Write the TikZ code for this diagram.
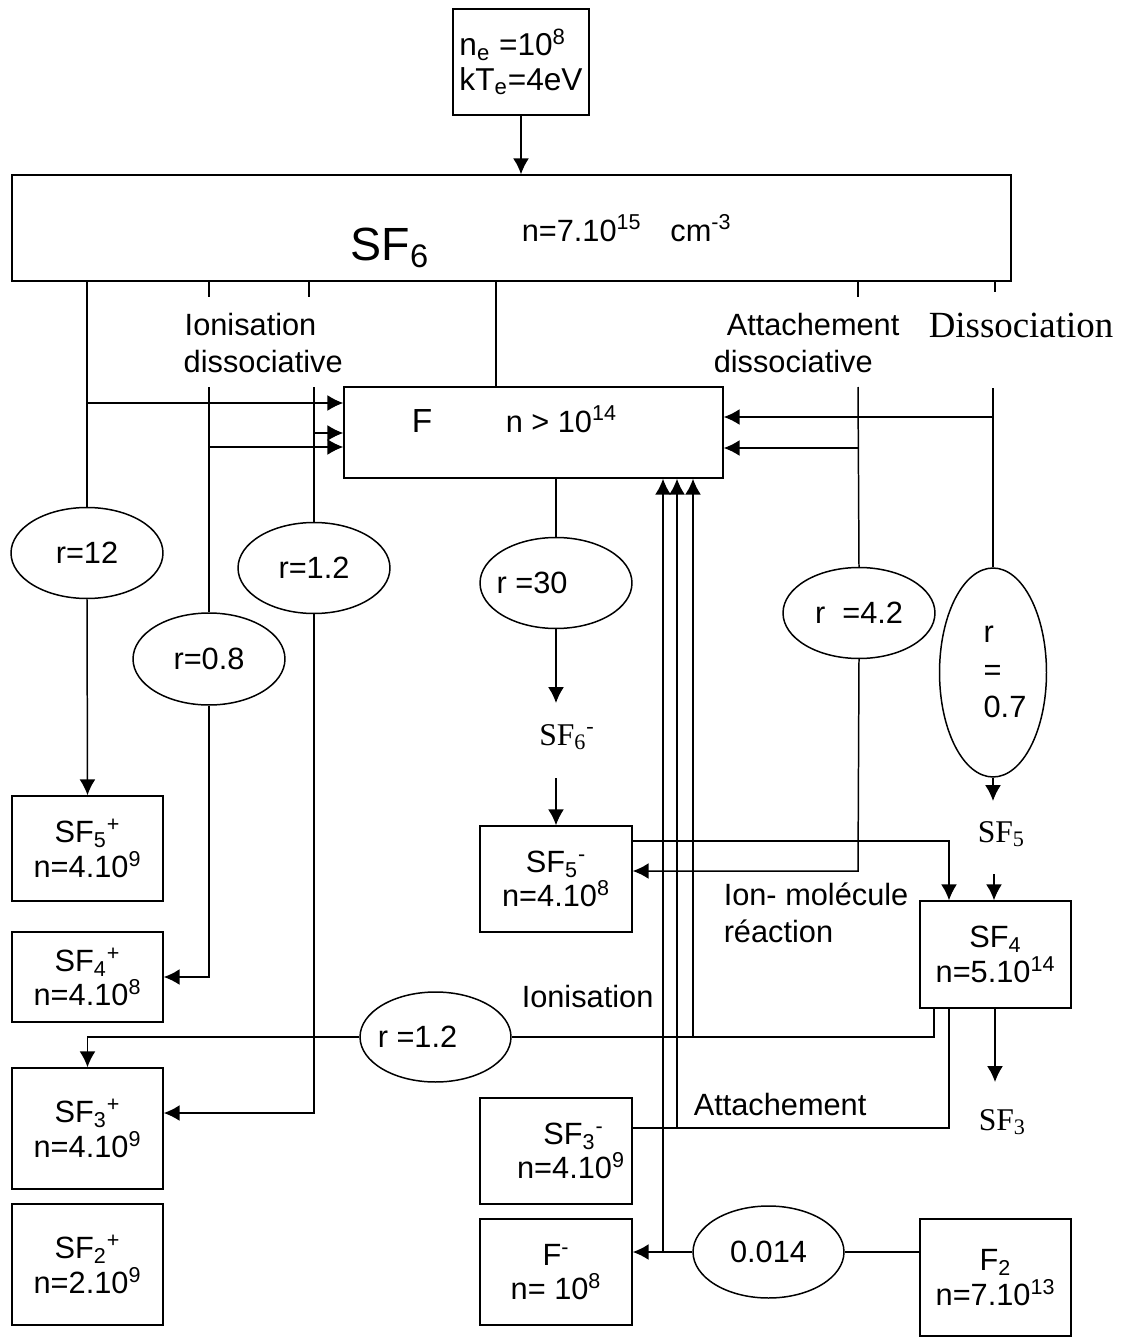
\documentclass[tikz,border=0pt]{standalone}
\usepackage{fontspec}
\setmainfont{Liberation Sans}
\newfontfamily\timesfont{Liberation Serif}
\usetikzlibrary{arrows.meta,shapes.geometric}

\begin{document}
\begin{tikzpicture}[
x=0.02cm, y=-0.02cm,
line width=0.85pt,
every node/.style={font=\fontsize{17.5}{19.5}\selectfont},
species/.style={draw, align=center, inner sep=0pt, minimum width=3.02cm},
rate/.style={draw, ellipse, inner sep=0pt, minimum width=3.04cm, minimum height=1.82cm},
lbl/.style={inner sep=0pt, anchor=base west},
roman/.style={font=\timesfont\fontsize{18}{21}\selectfont},
flow/.style={-{Latex[length=9pt,width=9pt]}}
]
\useasboundingbox (0,0) rectangle (1120,1338);

% electrons and gas
\node[species, align=left, minimum width=2.72cm, minimum height=2.12cm,
font=\fontsize{18}{19.8}\selectfont] (ne) at (521,62)
{n\textsubscript{e} =10\textsuperscript{8}\\kT\textsubscript{e}=4eV};

\node[species, minimum width=19.98cm, minimum height=2.12cm] (sf6) at (511.5,228) {};
\node[lbl, font=\fontsize{26.5}{30}\selectfont] (sf6name) at (350,260) {SF\textsubscript{6}};
\node[lbl] (sf6n) at (521,241) {n=7.10\textsuperscript{15}\hspace{0.58cm}cm\textsuperscript{-3}};

\node[species, minimum width=7.58cm, minimum height=1.82cm] (fbox) at (533.5,432.5) {};
\node[lbl, font=\fontsize{19}{21}\selectfont] (fname) at (411,432) {F};
\node[lbl] (fn) at (505,432) {n > 10\textsuperscript{14}};

% rates
\node[rate] (r12) at (87,553) {r=12};
\node[rate, minimum height=1.84cm] (r08) at (209,659) {r=0.8};
\node[rate] (r12b) at (314,568) {r=1.2};
\node[rate] (r30) at (556,583) {\hspace*{-0.96cm}r =30};
\node[rate] (r42) at (859,613) {r~ =4.2};
\node[rate, minimum width=2.14cm, minimum height=4.18cm] (r07) at (993,672.5)
{\hspace*{0.48cm}{\def\arraystretch{1.1}\begin{tabular}{@{}l@{}}r\\=\\0.7\end{tabular}}};
\node[rate, minimum width=3.02cm, minimum height=1.8cm] (r12c) at (435.5,1037) {\hspace*{-0.72cm}r =1.2};
\node[rate, minimum width=3.02cm, minimum height=1.84cm] (c014) at (768.5,1252) {0.014};

% ions
\node[species, minimum height=2.1cm] (sf5p) at (87.5,848.5)
{SF\textsubscript{5}\textsuperscript{+}\\n=4.10\textsuperscript{9}};
\node[species, minimum height=1.8cm] (sf4p) at (87.5,977)
{SF\textsubscript{4}\textsuperscript{+}\\n=4.10\textsuperscript{8}};
\node[species, minimum height=2.42cm] (sf3p) at (87.5,1128.5)
{SF\textsubscript{3}\textsuperscript{+}\\n=4.10\textsuperscript{9}};
\node[species, minimum height=2.42cm] (sf2p) at (87.5,1264.5)
{SF\textsubscript{2}\textsuperscript{+}\\n=2.10\textsuperscript{9}};
\node[species, minimum width=3.04cm, minimum height=2.12cm] (sf5m) at (556,879)
{SF\textsubscript{5}\textsuperscript{-}\\n=4.10\textsuperscript{8}};
\node[species, minimum width=3.04cm, minimum height=2.12cm] (sf3m) at (556,1151)
{\hspace*{0.7cm}SF\textsubscript{3}\textsuperscript{-}\\\hspace*{0.6cm}n=4.10\textsuperscript{9}};
\node[species, minimum width=3.04cm, minimum height=2.12cm] (fm) at (556,1272)
{F\textsuperscript{-}\\n= 10\textsuperscript{8}};
\node[species, minimum height=2.14cm] (sf4) at (995.5,954.5)
{SF\textsubscript{4}\\n=5.10\textsuperscript{14}};
\node[species, minimum height=2.34cm] (f2) at (995.5,1277.5)
{F\textsubscript{2}\\n=7.10\textsuperscript{13}};

% labels
\node[lbl] (ionA) at (184,335) {Ionisation};
\node[lbl] (dissA) at (183,372) {dissociative};
\node[lbl] (attA) at (726,335) {Attachement};
\node[lbl] (dissB) at (713,372) {dissociative};
\node[lbl, roman, font=\timesfont\fontsize{21}{24}\selectfont] (dissoc) at (928,337) {Dissociation};
\node[lbl] (ionmol) at (723,905) {Ion- molécule};
\node[lbl] (reac) at (723,942) {réaction};
\node[lbl] (ionB) at (521,1007) {Ionisation};
\node[lbl] (attB) at (693,1115) {Attachement};
\node[lbl, roman, anchor=base] (sf6m) at (567,745) {SF\textsubscript{6}\textsuperscript{-}};
\node[lbl, roman] (sf5) at (977,842) {SF\textsubscript{5}};
\node[lbl, roman] (sf3) at (978,1130) {SF\textsubscript{3}};

% points
\coordinate (s2) at (209,297);
\coordinate (s3) at (309,297);
\coordinate (s5) at (858,297);
\coordinate (s6) at (995,292);
\coordinate (t2) at (209,387);
\coordinate (t3) at (314,387);
\coordinate (t5) at (858,387);
\coordinate (t6) at (993,388);
\coordinate (d0) at (496,387);
\coordinate (i1) at (88,403);
\coordinate (i2) at (209,447);
\coordinate (i3) at (314,433);
\coordinate (i5) at (858,448);
\coordinate (i6) at (993,417);
\coordinate (k3) at (314,1113);
\coordinate (k4) at (949,841);
\coordinate (k5) at (858,871);
\coordinate (m1) at (556,703);
\coordinate (m2) at (556,778);
\coordinate (q1) at (993,801);
\coordinate (q2) at (994,874);
\coordinate (u1) at (934,1037);
\coordinate (u2) at (949,1128);
\coordinate (u3) at (995,1082);
\coordinate (v1) at (693,1037);
\coordinate (v2) at (677,1128);
\coordinate (w1) at (663,1252);

% connectors
\draw[flow] (ne) -- (ne |- sf6.north);

\draw (sf6.south -| r12.north) -- (r12.north);
\draw (sf6.south -| s2) -- (s2);
\draw (sf6.south -| s3) -- (s3);
\draw (sf6.south -| d0) -- (d0);
\draw (sf6.south -| s5) -- (s5);
\draw (sf6.south -| s6) -- (s6);

\draw (t2) -- (r08.north);
\draw (t3) -- (r12b.north);
\draw (t5) -- (r42.north);
\draw (t6) -- (r07.north);

\draw[flow] (i1) -- (i1 -| fbox.west);
\draw[flow] (i2) -- (i2 -| fbox.west);
\draw[flow] (i3) -- (i3 -| fbox.west);
\draw[flow] (i5) -- (i5 -| fbox.east);
\draw[flow] (i6) -- (i6 -| fbox.east);

\draw[flow] (r12.south) -- (sf5p.north);
\draw[flow] (r08.south) |- (sf4p.east);
\draw[flow] (r12b.south) -- (k3) -- (k3 -| sf3p.east);

\draw (fbox.south -| r30.north) -- (r30.north);
\draw[flow] (r30.south) -- (m1);
\draw[flow] (m2) -- (sf5m.north);

\draw[flow] (r42.south) -- (k5) -- (k5 -| sf5m.east);
\draw[flow] (k4 -| sf5m.east) -- (k4) -- (k4 |- sf4.north);
\draw[flow] (r07.south) -- (q1);
\draw[flow] (q2) -- (q2 |- sf4.north);

\draw (u1 |- sf4.south) -- (u1) -- (r12c.east);
\draw[flow] (v1) -- (v1 |- fbox.south);
\draw (u2 |- sf4.south) -- (u2) -- (u2 -| sf3m.east);
\draw[flow] (v2) -- (v2 |- fbox.south);
\draw[flow] (u3 |- sf4.south) -- (u3);
\draw[flow] (r12c.west) -| (sf3p.north);

\draw (f2.west |- c014.east) -- (c014.east);
\draw[flow] (c014.west) -- (w1) -- (w1 -| fm.east);
\draw[flow] (w1) -- (w1 |- fbox.south);

\end{tikzpicture}
\end{document}
